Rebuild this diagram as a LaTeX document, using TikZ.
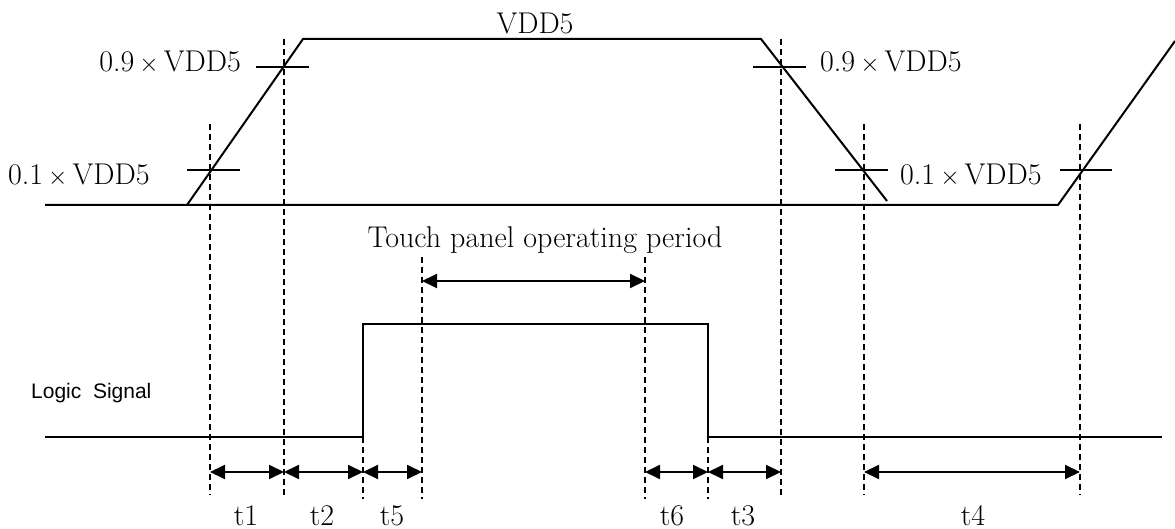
\documentclass[tikz,border=0pt]{standalone}
\usepackage{fontspec}
\newfontfamily\arialf{Liberation Sans}
\usetikzlibrary{arrows.meta}
\begin{document}
\begin{tikzpicture}[x=1pt,y=-1pt,
  wave/.style={line width=2pt, line join=miter},
  guide/.style={line width=1.8pt, dash pattern=on 6pt off 4pt},
  tickmark/.style={line width=2pt},
  dim/.style={line width=2pt, {Triangle[length=15pt,width=14pt]}-{Triangle[length=15pt,width=14pt]}},
  lbl/.style={font=\fontsize{30}{34}\selectfont, inner sep=0pt},
  sig/.style={font=\arialf\fontsize{21}{24}\selectfont, inner sep=0pt}]
\useasboundingbox (0,0) rectangle (1175,529);
% top waveform
\coordinate (w0) at (45,205);
\coordinate (w1) at (187,205);
\coordinate (w2) at (303,39);
\coordinate (w3) at (761,39);
\coordinate (w4) at (887,201);
\coordinate (w5) at (1058,205);
\coordinate (w6) at (1175,41);
\draw[wave] (w0) -- (w1) -- (w2) -- (w3) -- (w4);
\draw[wave] (w1) -- (w5) -- (w6);
% threshold ticks
\coordinate (k1a) at (256,67); \coordinate (k1b) at (309,67);
\coordinate (k2a) at (187,170); \coordinate (k2b) at (240,170);
\coordinate (k3a) at (753,67); \coordinate (k3b) at (806,67);
\coordinate (k4a) at (835,170); \coordinate (k4b) at (888,170);
\coordinate (k5a) at (1060,170); \coordinate (k5b) at (1112,170);
\draw[tickmark] (k1a) -- (k1b);
\draw[tickmark] (k2a) -- (k2b);
\draw[tickmark] (k3a) -- (k3b);
\draw[tickmark] (k4a) -- (k4b);
\draw[tickmark] (k5a) -- (k5b);
% guide lines
\coordinate (g1t) at (210,124);  \coordinate (g1b) at (210,495);
\coordinate (g2t) at (284,39);   \coordinate (g2b) at (284,495);
\coordinate (g5t) at (363,437);  \coordinate (g5b) at (363,499);
\coordinate (gAt) at (422,257);  \coordinate (gAb) at (422,499);
\coordinate (gBt) at (645,257);  \coordinate (gBb) at (645,499);
\coordinate (g6t) at (708,437);  \coordinate (g6b) at (708,499);
\coordinate (g3t) at (781,39);   \coordinate (g3b) at (781,495);
\coordinate (g4t) at (864,124);  \coordinate (g4b) at (864,495);
\coordinate (g7t) at (1080,124); \coordinate (g7b) at (1080,495);
\foreach \g in {g1,g2,g5,gA,gB,g6,g3,g4,g7}
  \draw[guide] (\g t) -- (\g b);
% logic signal
\coordinate (s0) at (45,437);
\coordinate (s1) at (363,437);
\coordinate (s2) at (363,324);
\coordinate (s3) at (708,324);
\coordinate (s4) at (708,437);
\coordinate (s5) at (1162,437);
\draw[wave] (s0) -- (s1) -- (s2) -- (s3) -- (s4) -- (s5);
% dimension arrows
\coordinate (a1) at (210,472); \coordinate (a2) at (284,472);
\coordinate (a5) at (363,472); \coordinate (aA) at (422,472);
\coordinate (aB) at (645,472); \coordinate (a6) at (708,472);
\coordinate (a3) at (781,472); \coordinate (a4) at (864,472);
\coordinate (a7) at (1080,472);
\coordinate (pA) at (422,281); \coordinate (pB) at (645,281);
\draw[dim] (a1) -- (a2);
\draw[dim] (a2) -- (a5);
\draw[dim] (a5) -- (aA);
\draw[dim] (aB) -- (a6);
\draw[dim] (a6) -- (a3);
\draw[dim] (a4) -- (a7);
\draw[dim] (pA) -- (pB);
% labels
\node[lbl] (vdd) at (535,23) {VDD5};
\node[lbl, anchor=east] (l09) at (241,62) {0.9\,$\times$\,VDD5};
\node[lbl, anchor=west] (r09) at (820,62) {0.9\,$\times$\,VDD5};
\node[lbl, anchor=west] (l01) at (8,175) {0.1\,$\times$\,VDD5};
\node[lbl, anchor=west] (r01) at (900,175) {0.1\,$\times$\,VDD5};
\node[lbl, anchor=base] (tp) at (545,248) {Touch panel operating period};
\node[sig, anchor=base west] (ls) at (31,398) {Logic\ \ Signal};
\node[lbl, anchor=base] (t1) at (246,525) {t1};
\node[lbl, anchor=base] (t2) at (322,525) {t2};
\node[lbl, anchor=base] (t5) at (392,525) {t5};
\node[lbl, anchor=base] (t6) at (672,525) {t6};
\node[lbl, anchor=base] (t3) at (743,525) {t3};
\node[lbl, anchor=base] (t4) at (973,525) {t4};
\end{tikzpicture}
\end{document}
